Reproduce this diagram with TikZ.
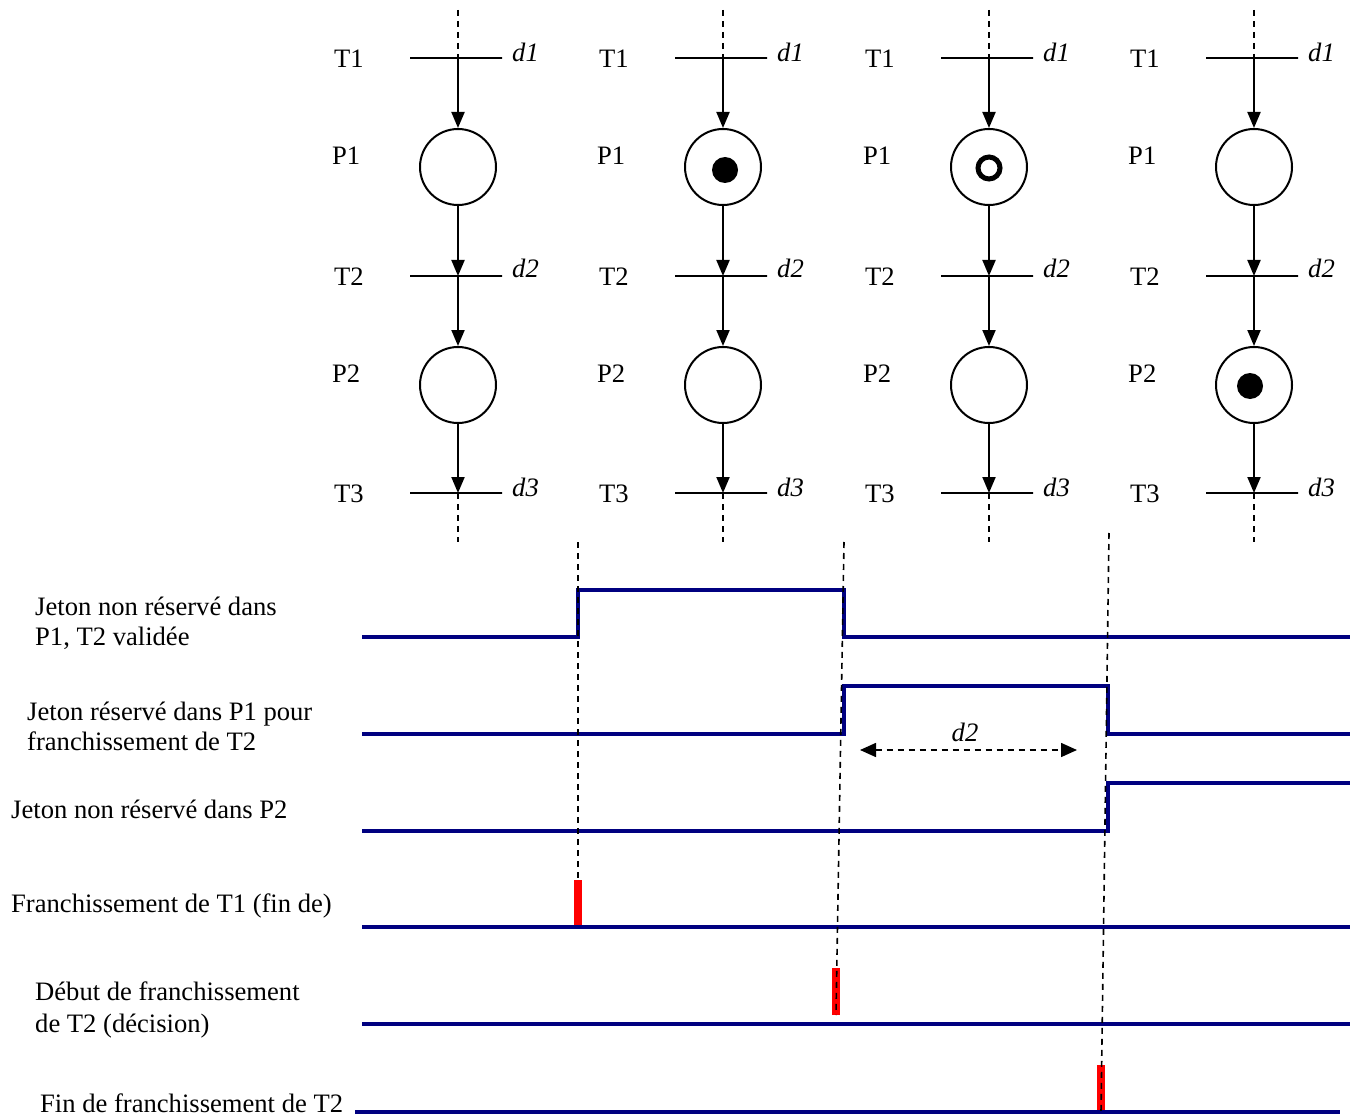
\documentclass[tikz,border=0pt]{standalone}
\usepackage{fontspec}
\setmainfont{Liberation Serif}
\usetikzlibrary{arrows.meta}
\definecolor{sigblue}{RGB}{0,0,128}
\begin{document}
\begin{tikzpicture}[x=1pt,y=-1pt,
  font=\fontsize{26.6}{31}\selectfont,
  lbl/.style={anchor=base west, inner sep=0pt},
  dlbl/.style={anchor=base west, inner sep=0pt, font=\fontsize{26.6}{31}\selectfont\itshape},
  tbar/.style={draw, line width=2pt, minimum width=92pt, minimum height=0pt, inner sep=0pt, rectangle},
  pplace/.style={circle, draw, line width=2pt, minimum size=76pt, inner sep=0pt},
  parc/.style={line width=2pt, -{Triangle[length=16pt,width=13pt]}},
  guide/.style={line width=1.6pt, dash pattern=on 6pt off 5pt},
  sig/.style={line width=4pt, color=sigblue, line join=miter},
  pulse/.style={line width=8pt, color=red},
  tokfull/.style={circle, fill=black, minimum size=26pt, inner sep=0pt},
  tokring/.style={circle, draw=black, line width=5pt, minimum size=22pt, inner sep=0pt},
  dimarrow/.style={line width=1.6pt, dash pattern=on 6pt off 5pt, {Triangle[length=16pt,width=14pt]}-{Triangle[length=16pt,width=14pt]}},
]
\useasboundingbox (0,0) rectangle (1358,1118);

% ---------- Petri nets ----------
\foreach \c/\i in {458/1,723/2,989/3,1254/4}{
  \node[tbar] (T1-\i) at (\c-2,58) {};
  \node[tbar] (T2-\i) at (\c-2,276) {};
  \node[tbar] (T3-\i) at (\c-2,493) {};
  \coordinate (A1-\i) at (\c,58);
  \coordinate (A2-\i) at (\c,276);
  \coordinate (A3-\i) at (\c,493);
  \coordinate (top-\i) at (\c,10);
  \coordinate (bot-\i) at (\c,542);
  \node[pplace] (P1-\i) at (\c,167) {};
  \node[pplace] (P2-\i) at (\c,385) {};
  \node[lbl] (lT1-\i) at (\c-124,68) {T1};
  \node[lbl] (lP1-\i) at (\c-126,165) {P1};
  \node[lbl] (lT2-\i) at (\c-124,286) {T2};
  \node[lbl] (lP2-\i) at (\c-126,382) {P2};
  \node[lbl] (lT3-\i) at (\c-124,502) {T3};
  \node[dlbl] (ld1-\i) at (\c+54,62) {d1};
  \node[dlbl] (ld2-\i) at (\c+54,278) {d2};
  \node[dlbl] (ld3-\i) at (\c+54,496) {d3};
  \draw[guide] (top-\i) -- (A1-\i);
  \draw[parc] (A1-\i) -- (P1-\i.north);
  \draw[parc] (P1-\i.south) -- (A2-\i);
  \draw[parc] (A2-\i) -- (P2-\i.north);
  \draw[parc] (P2-\i.south) -- (A3-\i);
  \draw[guide] (A3-\i) -- (bot-\i);
}
\node[tokfull] (tok2) at (725,170) {};
\node[tokring] (tok3) at (989,168) {};
\node[tokfull] (tok4) at (1250,386) {};

% ---------- labels of the chronogram ----------
\node[lbl] (s1a) at (35,615) {Jeton non réservé dans};
\node[lbl] (s1b) at (35,645) {P1, T2 validée};
\node[lbl] (s2a) at (27,720) {Jeton réservé dans P1 pour};
\node[lbl] (s2b) at (27,750) {franchissement de T2};
\node[lbl] (s3a) at (11,818) {Jeton non réservé dans P2};
\node[lbl] (s4a) at (11,912) {Franchissement de T1 (fin de)};
\node[lbl] (s5a) at (35,1000) {Début de franchissement};
\node[lbl] (s5b) at (35,1032) {de T2 (décision)};
\node[lbl] (s6a) at (40,1112) {Fin de franchissement de T2};

% ---------- red pulses ----------
\draw[pulse] (578,880) -- (578,927);
\draw[pulse] (836,968) -- (836,1015);
\draw[pulse] (1101,1065) -- (1101,1112);

% ---------- signals ----------
\draw[sig] (362,637) -- (578,637) -- (578,590) -- (844,590) -- (844,637) -- (1350,637);
\draw[sig] (362,734) -- (844,734) -- (844,686) -- (1108,686) -- (1108,734) -- (1350,734);
\draw[sig] (362,831) -- (1108,831) -- (1108,783) -- (1350,783);
\draw[sig] (362,927) -- (1350,927);
\draw[sig] (362,1024) -- (1350,1024);
\draw[sig] (355,1112) -- (1340,1112);

% ---------- d2 duration ----------
\coordinate (d2l) at (860,750);
\coordinate (d2r) at (1077,750);
\draw[dimarrow] (d2l) -- (d2r);
\node[anchor=base, inner sep=0pt, font=\fontsize{26.6}{31}\selectfont\itshape] (d2t) at (965,741) {d2};

% ---------- vertical guides ----------
\coordinate (gA1) at (578,542);
\coordinate (gA2) at (578,880);
\coordinate (gB1) at (844,542);
\coordinate (gB2) at (836,1015);
\coordinate (gC1) at (1109,533);
\coordinate (gC2) at (1101,1112);
\draw[guide] (gA1) -- (gA2);
\draw[guide] (gB1) -- (gB2);
\draw[guide] (gC1) -- (gC2);
\end{tikzpicture}
\end{document}
